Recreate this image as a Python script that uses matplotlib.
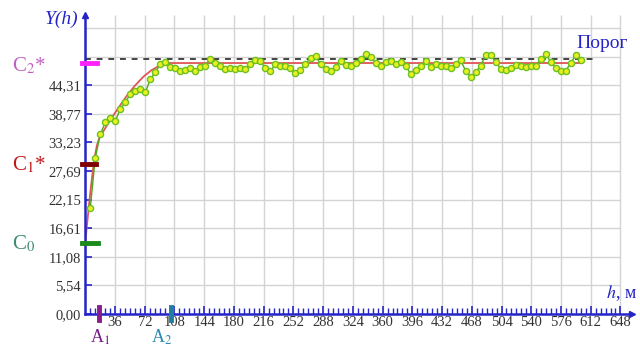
import numpy as np
import matplotlib.pyplot as plt

plt.rcParams['font.family'] = ['Liberation Serif', 'DejaVu Serif']
plt.rcParams['mathtext.fontset'] = 'stix'

# experimental semivariogram, one value per lag step of 6 m
gamma = [20.6, 30.3, 34.8, 37.1, 37.9, 37.4, 39.7, 41.0, 42.6, 43.2,
         43.6, 42.9, 45.5, 46.8, 48.4, 48.8, 47.8, 47.6, 47.1, 47.3,
         47.6, 47.1, 47.8, 48.1, 49.4, 48.6, 48.0, 47.5, 47.6, 47.5,
         47.6, 47.5, 48.4, 49.1, 48.9, 47.6, 47.0, 48.4, 48.1, 48.0,
         47.6, 46.6, 47.3, 48.4, 49.6, 50.0, 48.4, 47.5, 47.1, 47.8,
         48.9, 48.3, 48.0, 48.6, 49.4, 50.4, 49.7, 48.6, 48.0, 48.8,
         48.9, 48.4, 48.8, 48.1, 46.5, 47.3, 48.1, 48.9, 47.8, 48.4,
         48.1, 48.1, 47.6, 48.4, 49.1, 47.1, 45.9, 46.8, 48.1, 50.1,
         50.2, 48.8, 47.5, 47.3, 47.6, 48.2, 48.1, 47.8, 48.1, 48.1,
         49.3, 50.4, 48.8, 47.6, 47.1, 47.1, 48.6, 50.1, 49.1]
lags = np.arange(1, len(gamma) + 1) * 6.06

# fitted model (two nested structures)
model_h = [0, 2, 4, 6, 8, 10, 12, 14, 17, 20, 30, 40, 50, 60, 70, 80, 90, 100, 104, 600]
model_g = [13.9, 17.2, 20.4, 23.4, 26.2, 28.8, 30.9, 32.6, 34.1, 34.9,
           37.5, 39.9, 42.2, 44.2, 45.9, 47.2, 48.1, 48.6, 48.6, 48.6]

c0 = 13.8
c1 = 29.1
c2 = 48.7
a1 = 17
a2 = 104
threshold = 49.4

xticks = [36, 72, 108, 144, 180, 216, 252, 288, 324, 360, 396, 432, 468,
          504, 540, 576, 612, 648]
yticks = [0.00, 5.54, 11.08, 16.61, 22.15, 27.69, 33.23, 38.77, 44.31]
ygrid = [5.54, 11.08, 16.61, 22.15, 27.69, 33.23, 38.77, 44.31, 49.85, 55.39]

blue = '#2424c8'

fig = plt.figure(figsize=(6.4, 3.47), dpi=100)
ax = fig.add_axes([85.3 / 640, 33 / 347, (632 - 85.3) / 640, (314 - 15) / 347])
ax.set_xlim(0, 662)
ax.set_ylim(0, 57.9)

# grid
ax.vlines(xticks, 0, 57.9, color='#d4d4d4', lw=1, zorder=0)
ax.hlines(ygrid, 0, 648, color='#d4d4d4', lw=1, zorder=0)

# threshold
ax.plot([0, 615], [threshold, threshold], color='#444444', lw=1.4,
        dashes=(3, 3), zorder=1)

ax.plot(model_h, model_g, color='#e05555', lw=1.3, zorder=2)
ax.plot(lags, gamma, color='#4ca81e', lw=1.0, zorder=3)
ax.plot(lags, gamma, 'o', ms=4.4, mfc='#e8f020', mec='#6cc020', mew=1.0, zorder=4)

# parameter marks on the axes
ax.plot([-4, 14], [c2, c2], color='#ff22ff', lw=3.5, clip_on=False, zorder=5)
ax.plot([-4, 13], [c1, c1], color='#800000', lw=3.5, clip_on=False, zorder=5)
ax.plot([-4, 15], [c0, c0], color='#1a8a1a', lw=3.5, clip_on=False, zorder=5)
ax.plot([a1, a1], [-1.2, 1.4], color='#8b1a8b', lw=3.5, clip_on=False, zorder=5)
ax.plot([a2, a2], [-1.2, 1.4], color='#1f7f9f', lw=3.5, clip_on=False, zorder=5)

# axes
for s in ['top', 'right']:
    ax.spines[s].set_visible(False)
for s in ['left', 'bottom']:
    ax.spines[s].set_color(blue)
    ax.spines[s].set_linewidth(1.8)
ax.plot([1], [0], marker='>', ms=5, color=blue, transform=ax.transAxes, clip_on=False)
ax.plot([0], [1], marker='^', ms=5, color=blue, transform=ax.transAxes, clip_on=False)

ax.set_xticks(xticks)
ax.set_xticks(np.arange(6, 649, 6), minor=True)
ax.set_yticks(yticks)
ax.set_yticklabels([f'{v:.2f}'.replace('.', ',') for v in yticks])
ax.tick_params(axis='x', which='major', direction='in', length=6, width=1.2,
               color=blue, labelsize=10.5, labelcolor='#333333', pad=1.5)
ax.tick_params(axis='x', which='minor', direction='in', length=4, width=1.0, color=blue)
ax.tick_params(axis='y', which='major', direction='in', length=5, width=1.2,
               color=blue, labelsize=10.5, labelcolor='#333333', pad=3)

def ftext(px, py, s, va='center', **kw):
    fig.text(px / 640, 1 - py / 347, s, ha='center', va=va, **kw)

ftext(62, 19, 'Y(h)', color=blue, fontsize=14, style='italic')
ftext(602, 44, 'Порог', color=blue, fontsize=14)
ftext(621, 293, '$h$, м', color=blue, fontsize=13)
ftext(29, 66, 'C$_2$*', color='#c060c0', fontsize=15)
ftext(29, 165, 'C$_1$*', color='#c01818', fontsize=15)
ftext(24, 244, 'C$_0$', color='#3c8c6c', fontsize=15)
ftext(100, 343, 'A$_1$', va='baseline', color='#7a1e8c', fontsize=13)
ftext(162, 343, 'A$_2$', va='baseline', color='#2a8cb0', fontsize=13)

fig.savefig('out.png', dpi=100)
